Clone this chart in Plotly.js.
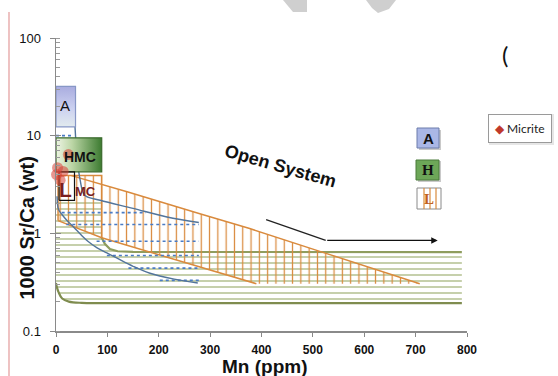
<!DOCTYPE html>
<html><head><meta charset="utf-8">
<script src="https://cdn.plot.ly/plotly-3.0.1.min.js"></script>
<style>html,body{margin:0;padding:0;background:#fff}#chart{width:558px;height:376px}</style>
</head><body><div id="chart"></div>
<script>
// ---------------- data ----------------
const micriteMn    = [1, 3, 8, 14, 24];
const micriteSrCa  = [4.0, 4.7, 3.5, 4.3, 6.4];

const aragBoxMn    = [0, 38];
const aragBoxSrCa  = [12.3, 32];
const hmcBoxMn     = [0, 89];
const hmcBoxSrCa   = [4.26, 9.5];
const lmcBoxMn     = [4, 89];
const lmcBoxSrCa   = [0.9, 3.9];
const lmcLabelBoxMn   = [6, 36];
const lmcLabelBoxSrCa = [2.18, 4.26];

const lmcFieldMn   = [4, 4, 89, 89, 140, 280, 377, 527, 708, 390, 89];
const lmcFieldSrCa = [1.35, 3.9, 3.9, 3.17, 2.65, 1.59, 1.12, 0.62, 0.305, 0.305, 0.9];
const lmcUpperMn   = [30, 140, 280, 377, 527, 708];
const lmcUpperSrCa = [3.9, 2.65, 1.59, 1.12, 0.62, 0.305];
const lmcLowerMn   = [4, 89, 390];
const lmcLowerSrCa = [1.35, 0.9, 0.305];

const hmcFieldMn   = [0, 89, 89, 95, 105, 120, 150, 790, 790, 100, 50, 25, 12, 5, 1, 0];
const hmcFieldSrCa = [2.2, 2.2, 0.9, 0.78, 0.69, 0.655, 0.645, 0.643, 0.193, 0.193, 0.194, 0.2, 0.215, 0.25, 0.29, 0.31];
const hmcTopMn     = [89, 95, 105, 120, 150, 790];
const hmcTopSrCa   = [0.9, 0.78, 0.69, 0.655, 0.645, 0.643];
const hmcBottomMn  = [0, 1, 5, 12, 25, 50, 100, 790];
const hmcBottomSrCa= [0.31, 0.29, 0.25, 0.215, 0.2, 0.194, 0.193, 0.193];

const aragCurveMn   = [37, 41, 47, 56, 86, 150, 216, 278];
const aragCurveSrCa = [12.3, 6.1, 3.5, 2.45, 2.18, 1.8, 1.47, 1.29];
const hmcCurveMn    = [2, 5, 12, 21, 35, 50, 62, 80, 99, 118, 150, 183, 230, 276];
const hmcCurveSrCa  = [2.4, 1.75, 1.55, 1.36, 1.15, 0.95, 0.83, 0.71, 0.63, 0.56, 0.46, 0.39, 0.34, 0.31];

const dottedLevels  = [17.5, 14.4, 10, 8.3, 6.8, 1.63, 1.23, 0.83, 0.594, 0.44, 0.33];
const dottedStartMn = [10, 10, 0, 0, 0, 11, 20, 79, 99, 141, 202];
const dottedEndMn   = [22, 22, 32, 30, 30, 175, 278, 278, 278, 278, 278];

const openSysMn     = [409, 525, 743];
const openSysSrCa   = [1.38, 0.847, 0.847];

const xTitle = 'Mn (ppm)';
const yTitle = '1000 Sr/Ca (wt)';

// ---------------- helpers ----------------
const L = 56, R = 467, T = 38, B = 331;
const px = v => (v - L) / (R - L);
const py = v => (B - v) / (B - T);
const lg = Math.log10;
const ORANGE = '#d98a3d', BLUE = '#52749a', OLIVE = '#8f9d5e';

const traces = [];
// green horizontally hatched field
traces.push({x: hmcFieldMn, y: hmcFieldSrCa, mode: 'lines', fill: 'toself', line: {width: 0},
  fillcolor: 'rgba(0,0,0,0)', fillpattern: {shape: '-', size: 6, solidity: 0.22, fgcolor: '#a8b781', bgcolor: 'rgba(0,0,0,0)'},
  hoverinfo: 'skip', showlegend: false});
traces.push({x: hmcTopMn, y: hmcTopSrCa, mode: 'lines', line: {color: OLIVE, width: 2.2}, showlegend: false});
traces.push({x: hmcBottomMn, y: hmcBottomSrCa, mode: 'lines', line: {color: '#7f8c4f', width: 2.2, shape: 'spline'}, showlegend: false});
// orange vertically hatched field
traces.push({x: lmcFieldMn, y: lmcFieldSrCa, mode: 'lines', fill: 'toself', line: {width: 0},
  fillcolor: 'rgba(0,0,0,0)', fillpattern: {shape: '|', size: 8.3, solidity: 0.15, fgcolor: ORANGE, bgcolor: 'rgba(0,0,0,0)'},
  hoverinfo: 'skip', showlegend: false});
traces.push({x: lmcUpperMn, y: lmcUpperSrCa, mode: 'lines', line: {color: ORANGE, width: 1.5}, showlegend: false});
traces.push({x: lmcLowerMn, y: lmcLowerSrCa, mode: 'lines', line: {color: ORANGE, width: 1.5}, showlegend: false});
traces.push({x: [lmcBoxMn[0], lmcBoxMn[0], lmcBoxMn[1], lmcBoxMn[1]], y: [lmcLowerSrCa[0], lmcBoxSrCa[1], lmcBoxSrCa[1], lmcBoxSrCa[0]],
  mode: 'lines', line: {color: ORANGE, width: 1.5}, showlegend: false});
// dotted blue levels
dottedLevels.forEach((lv, i) => traces.push({x: [dottedStartMn[i], dottedEndMn[i]], y: [lv, lv], mode: 'lines',
  line: {color: '#4a7bc4', width: 1.6, dash: 'dot'}, showlegend: false}));
// blue curves
traces.push({x: aragCurveMn, y: aragCurveSrCa, mode: 'lines', line: {color: BLUE, width: 1.4, shape: 'spline'}, showlegend: false});
traces.push({x: hmcCurveMn, y: hmcCurveSrCa, mode: 'lines', line: {color: BLUE, width: 1.4, shape: 'spline'}, showlegend: false});
// aragonite box
traces.push({x: [aragBoxMn[0], aragBoxMn[1], aragBoxMn[1], aragBoxMn[0], aragBoxMn[0]],
  y: [aragBoxSrCa[0], aragBoxSrCa[0], aragBoxSrCa[1], aragBoxSrCa[1], aragBoxSrCa[0]],
  mode: 'lines', fill: 'toself', line: {color: '#8797c6', width: 1.2},
  fillgradient: {type: 'vertical', colorscale: [[0, '#e2ebee'], [0.45, '#ccd1f0'], [1, '#a9acdf']]}, showlegend: false});
// HMC box
traces.push({x: [hmcBoxMn[0], hmcBoxMn[1], hmcBoxMn[1], hmcBoxMn[0], hmcBoxMn[0]],
  y: [hmcBoxSrCa[0], hmcBoxSrCa[0], hmcBoxSrCa[1], hmcBoxSrCa[1], hmcBoxSrCa[0]],
  mode: 'lines', fill: 'toself', line: {color: '#3a6a2c', width: 1.2},
  fillgradient: {type: 'horizontal', colorscale: [[0, '#eef4e4'], [0.35, '#bcd6a6'], [1, '#3d7b31']]}, showlegend: false});
// LMC label box
traces.push({x: [lmcLabelBoxMn[0], lmcLabelBoxMn[1], lmcLabelBoxMn[1], lmcLabelBoxMn[0], lmcLabelBoxMn[0]],
  y: [lmcLabelBoxSrCa[0], lmcLabelBoxSrCa[0], lmcLabelBoxSrCa[1], lmcLabelBoxSrCa[1], lmcLabelBoxSrCa[0]],
  mode: 'lines', line: {color: '#111', width: 1.2}, showlegend: false});
// open system arrow shaft
traces.push({x: openSysMn.slice(0, 2), y: openSysSrCa.slice(0, 2), mode: 'lines', line: {color: '#222', width: 1.3}, showlegend: false});
// micrite
traces.push({x: micriteMn, y: micriteSrCa, mode: 'markers', name: 'Micrite', cliponaxis: false,
  marker: {symbol: 'circle', size: 11, color: 'rgba(214,64,52,0.55)', line: {width: 0}}, showlegend: false});

const font = 'Liberation Sans, Arial, sans-serif';
const serif = 'Liberation Serif, DejaVu Serif, serif';
const C = {xanchor: 'center', yanchor: 'middle', showarrow: false};
const ann = [
  {...C, x: 18, y: lg(20.5), xref: 'x', yref: 'y', text: 'A', font: {family: font, size: 15, color: '#111'}},
  {...C, x: 46, y: lg(6.0), xref: 'x', yref: 'y', text: '<b>HMC</b>', font: {family: font, size: 14, color: '#111'}},
  {...C, x: 19, y: lg(2.78), xref: 'x', yref: 'y', text: '<b>L</b>', font: {family: font, size: 21, color: '#7a1f1f'}},
  {...C, x: 58, y: lg(2.7), xref: 'x', yref: 'y', text: '<b>MC</b>', font: {family: font, size: 13, color: '#7a1f1f'}},
  {x: openSysMn[2], y: lg(openSysSrCa[2]), ax: openSysMn[1], ay: lg(openSysSrCa[1]), axref: 'x', ayref: 'y', xref: 'x', yref: 'y',
    text: '', showarrow: true, arrowhead: 2, arrowsize: 1, arrowwidth: 1.3, arrowcolor: '#111'},
  {...C, x: px(280), y: py(166), xref: 'paper', yref: 'paper', text: '<b>Open System</b>', textangle: 16,
    font: {family: font, size: 18, color: '#111'}},
  {...C, x: px(505), y: py(54), xref: 'paper', yref: 'paper', text: '(', font: {family: 'Lato, sans-serif', size: 24, color: '#111'}},
  {...C, x: px(520), y: py(128), xref: 'paper', yref: 'paper', text: '<span style="color:#c0392b">◆</span> Micrite',
    font: {family: 'Lato, sans-serif', size: 12, color: '#222'}, bordercolor: '#9a9a9a', borderwidth: 1, borderpad: 6, bgcolor: '#fff'},
  {...C, x: px(428), y: py(138), xref: 'paper', yref: 'paper', text: '<b>A</b>', font: {family: font, size: 15, color: '#111'}},
  {...C, x: px(427.5), y: py(170), xref: 'paper', yref: 'paper', text: '<b>H</b>', font: {family: serif, size: 15, color: '#111'}},
  {...C, x: px(429), y: py(199), xref: 'paper', yref: 'paper', text: '<b>L</b>', font: {family: serif, size: 15, color: '#c0601c'}},
  {...C, x: px(26.5), y: py(228), xref: 'paper', yref: 'paper', text: '<b>' + yTitle + '</b>', textangle: -90,
    font: {family: font, size: 20, color: '#111'}},
  {...C, x: px(264), y: py(366), xref: 'paper', yref: 'paper', text: '<b>' + xTitle + '</b>',
    font: {family: font, size: 19, color: '#111'}}
];

const rectP = (x0, y0, x1, y1, fill, line) => ({type: 'rect', xref: 'paper', yref: 'paper',
  x0: px(x0), x1: px(x1), y0: py(y1), y1: py(y0), fillcolor: fill, line: {color: line || 'rgba(0,0,0,0)', width: line ? 1 : 0}, layer: 'above'});
const lineP = (x0, y0, x1, y1, color, w) => ({type: 'line', xref: 'paper', yref: 'paper',
  x0: px(x0), x1: px(x1), y0: py(y0), y1: py(y1), line: {color: color, width: w}, layer: 'above'});
const pathP = (pts, fill) => ({type: 'path', xref: 'paper', yref: 'paper', fillcolor: fill, line: {width: 0}, layer: 'above',
  path: 'M' + pts.map(p => px(p[0]) + ',' + py(p[1])).join(' L') + ' Z'});

const shapes = [
  lineP(9, 12, 9, 376, '#e39a9a', 1.2),
  pathP([[283, 0], [307, 0], [307, 12], [293, 12]], '#cfcfcf'),
  pathP([[366, 0], [396, 0], [389, 9], [378, 13], [372, 8]], '#cfcfcf'),
  rectP(489, 114, 554, 145, '#e6e6e6', null),
  // icons
  rectP(419, 130, 441, 150, '#c9c9c9', null),
  rectP(417, 128, 439, 148, '#aab7e6', '#6c7cab'),
  rectP(418, 161, 441, 182, '#c9c9c9', null),
  rectP(416, 160, 439, 180, '#6da758', '#4a7a3a'),
  rectP(417, 188, 441, 209, '#ffffff', '#8a8a8a'),
  lineP(424, 188, 424, 209, ORANGE, 1.2),
  lineP(430, 188, 430, 209, ORANGE, 1.2),
  lineP(436, 188, 436, 209, ORANGE, 1.2)
];

const layout = {
  width: 558, height: 376, margin: {l: L, r: 558 - R, t: T, b: 376 - B, pad: 0},
  paper_bgcolor: '#fff', plot_bgcolor: '#fff', showlegend: false,
  font: {family: font, color: '#111'},
  xaxis: {range: [0, 800], tick0: 0, dtick: 100, ticks: 'outside', ticklen: 4, tickcolor: '#888', tickwidth: 1,
    showline: true, linecolor: '#8a8a8a', linewidth: 1.5, showgrid: false, zeroline: false, ticklabelstandoff: 3,
    tickfont: {family: font, size: 12, color: '#111', weight: 'bold'}},
  yaxis: {type: 'log', range: [-1, 2], dtick: 1, ticks: 'outside', ticklen: 5, tickcolor: '#888',
    showline: true, linecolor: '#8a8a8a', linewidth: 1.5, showgrid: false, zeroline: false,
    tickfont: {family: font, size: 13, color: '#111'}, ticklabelstandoff: 6,
    minor: {ticks: 'inside', ticklen: 4, tickcolor: '#999', dtick: 'D1', showgrid: false}},
  yaxis2: {type: 'log', range: [-1, 2], dtick: 1, overlaying: 'y', anchor: 'x', side: 'left', ticks: 'inside', ticklen: 5,
    tickcolor: '#888', showticklabels: false, showline: false, showgrid: false, zeroline: false},
  annotations: ann, shapes: shapes
};
traces.push({x: [null], y: [null], yaxis: 'y2', mode: 'markers', showlegend: false, hoverinfo: 'skip'});

Plotly.newPlot('chart', traces, layout, {displayModeBar: false, staticPlot: true});
</script></body></html>
